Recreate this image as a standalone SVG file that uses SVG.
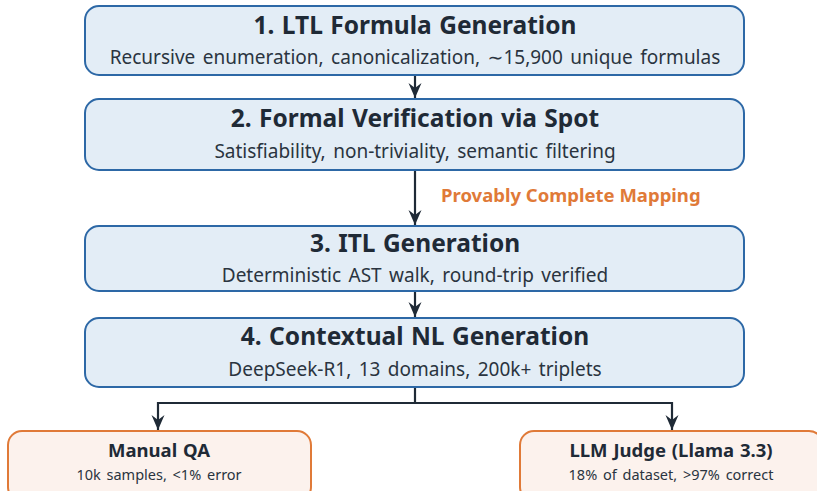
<svg xmlns="http://www.w3.org/2000/svg" width="817" height="491" viewBox="0 0 817 491">
<defs>
<marker id="ah" viewBox="0 0 16 14" refX="15" refY="7" markerWidth="16" markerHeight="14" markerUnits="userSpaceOnUse" orient="auto">
<path d="M0,0.5 L15,7 L0,13.5 L5,7 Z" fill="#1f2a36"/>
</marker>
<style>
.main{fill:#e3edf6;stroke:#2d68a6;stroke-width:2}
.qa{fill:#fcf2ed;stroke:#e07a38;stroke-width:2}
.t{font-family:"Noto Sans","DejaVu Sans",sans-serif;font-weight:bold;fill:#1f2a36;text-anchor:middle;font-size:24.5px;word-spacing:1px}
.s{font-family:"Noto Sans","DejaVu Sans",sans-serif;fill:#2a3440;text-anchor:middle;font-size:19px;word-spacing:2.5px}
.t2{font-family:"Noto Sans","DejaVu Sans",sans-serif;font-weight:bold;fill:#1f2a36;text-anchor:middle;font-size:18.5px;word-spacing:1px}
.s2{font-family:"Noto Sans","DejaVu Sans",sans-serif;fill:#2a3440;text-anchor:middle;font-size:14.5px;word-spacing:2px}
.c{fill:none;stroke:#1f2a36;stroke-width:2.2}
.lbl{font-family:"Noto Sans","DejaVu Sans",sans-serif;font-weight:bold;fill:#e07a38;font-size:18.5px}
</style>
</defs>
<rect width="817" height="491" fill="#ffffff"/>
<g id="connectors">
<path class="c" d="M415,75 V98" marker-end="url(#ah)"/>
<path class="c" d="M415,170 V225" marker-end="url(#ah)"/>
<path class="c" d="M415,291 V317" marker-end="url(#ah)"/>
<path class="c" d="M415,387 V403 M157,403 H673"/>
<path class="c" d="M158,402 V430" marker-end="url(#ah)"/>
<path class="c" d="M672,402 V430" marker-end="url(#ah)"/>
<text class="lbl" x="441" y="202">Provably Complete Mapping</text>
</g>
<g id="n1">
<rect class="main" x="85" y="6" width="659" height="69" rx="14"/>
<text class="t" x="415" y="34">1. LTL Formula Generation</text>
<text class="s" x="415" y="64">Recursive enumeration, canonicalization, ∼15,900 unique formulas</text>
</g>
<g id="n2">
<rect class="main" x="85" y="99" width="659" height="71" rx="14"/>
<text class="t" x="415" y="127">2. Formal Verification via Spot</text>
<text class="s" x="415" y="158">Satisfiability, non-triviality, semantic filtering</text>
</g>
<g id="n3">
<rect class="main" x="85" y="226" width="659" height="65" rx="14"/>
<text class="t" x="415" y="252">3. ITL Generation</text>
<text class="s" x="415" y="282">Deterministic AST walk, round-trip verified</text>
</g>
<g id="n4">
<rect class="main" x="85" y="318" width="659" height="69" rx="14"/>
<text class="t" x="415" y="345">4. Contextual NL Generation</text>
<text class="s" x="415" y="376">DeepSeek-R1, 13 domains, 200k+ triplets</text>
</g>
<g id="n5">
<rect class="qa" x="8" y="431" width="303" height="70" rx="14"/>
<text class="t2" x="159" y="457">Manual QA</text>
<text class="s2" x="159" y="480">10k samples, &lt;1% error</text>
</g>
<g id="n6">
<rect class="qa" x="520" y="431" width="303" height="70" rx="14"/>
<text class="t2" x="671" y="457">LLM Judge (Llama 3.3)</text>
<text class="s2" x="671" y="480">18% of dataset, &gt;97% correct</text>
</g>
</svg>
